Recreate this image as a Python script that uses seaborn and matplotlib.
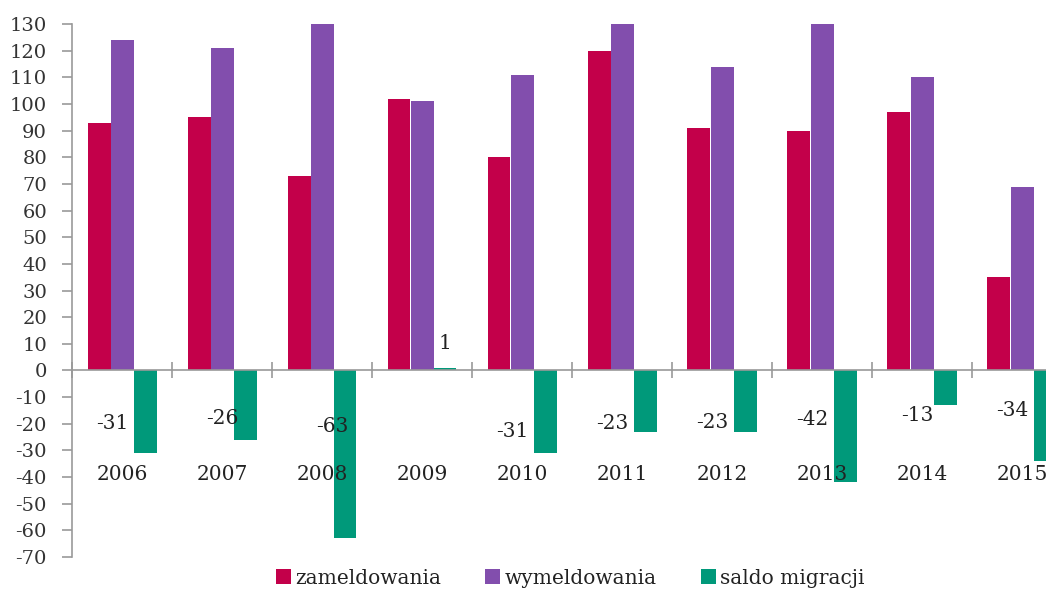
import matplotlib
matplotlib.use("Agg")
import matplotlib.pyplot as plt
import seaborn as sns
import pandas as pd
import numpy as np
from matplotlib.ticker import MultipleLocator, FixedLocator
from matplotlib.patches import Patch

years = ["2006", "2007", "2008", "2009", "2010", "2011", "2012", "2013", "2014", "2015"]
zameldowania = [93, 95, 73, 102, 80, 120, 91, 90, 97, 35]
wymeldowania = [124, 121, 136, 101, 111, 143, 114, 132, 110, 69]
saldo = [-31, -26, -63, 1, -31, -23, -23, -42, -13, -34]
series_names = ["zameldowania", "wymeldowania", "saldo migracji"]
colors = ["#C3004A", "#824EAD", "#00997A"]

sns.set_theme(style="white")
plt.rcParams["font.family"] = ["DejaVu Serif", "Liberation Serif"]
plt.rcParams["axes.unicode_minus"] = False

df = pd.DataFrame({
    "rok": years * 3,
    "seria": [series_names[0]] * 10 + [series_names[1]] * 10 + [series_names[2]] * 10,
    "wartosc": zameldowania + wymeldowania + saldo,
})

fig = plt.figure(figsize=(10.46, 5.92), dpi=100)
ax = fig.add_axes([72 / 1046, 35 / 592, 1000 / 1046, 533 / 592])

sns.barplot(data=df, x="rok", y="wartosc", hue="seria", palette=colors,
            width=0.69, ax=ax, legend=False, errorbar=None, saturation=1,
            linewidth=0)

ax.set_ylim(-70, 130)
ax.set_xlim(-0.5, 9.5)
ax.yaxis.set_major_locator(MultipleLocator(10))
ax.set_xlabel("")
ax.set_ylabel("")

for s in ["top", "right"]:
    ax.spines[s].set_visible(False)
ax.spines["left"].set_color("#999999")
ax.spines["bottom"].set_color("#999999")
ax.spines["bottom"].set_position(("data", 0))
ax.spines["left"].set_linewidth(1.2)
ax.spines["bottom"].set_linewidth(1.2)

ax.tick_params(axis="y", which="major", left=True, length=7, width=1.2,
               color="#999999", labelsize=14, labelcolor="#333333", pad=11)
ax.set_xticks(range(len(years)))
ax.set_xticklabels(years)
ax.tick_params(axis="x", which="major", length=0, labelsize=14.5,
               labelcolor="#222222", pad=68)
ax.xaxis.set_minor_locator(FixedLocator(np.arange(-0.5, 10.0, 1.0)))
ax.tick_params(axis="x", which="minor", bottom=True, direction="inout",
               length=12, width=1.2, color="#999999")
ax.xaxis.set_zorder(10)

# data labels for saldo migracji
label_x_off = [-0.1, 0.0, 0.1, 0.23, -0.1, -0.1, -0.1, -0.1, -0.05, -0.1]
label_y = [-20, -18, -21, 10, -23, -20, -19.5, -18.5, -17, -15]
for i, v in enumerate(saldo):
    ax.text(i + label_x_off[i], label_y[i], f"{v}", ha="center", va="center",
            fontsize=14.5, color="#222222", zorder=11)

handles = [Patch(facecolor=c, edgecolor="none") for c in colors]
fig.legend(handles, series_names, loc="center", bbox_to_anchor=(570 / 1046, 1 - 578 / 592),
           ncol=3, frameon=False, fontsize=14.5, handlelength=0.75, handleheight=0.75,
           handletextpad=0.2, columnspacing=2.2, labelcolor="#222222")

fig.savefig("out.png", dpi=100)
